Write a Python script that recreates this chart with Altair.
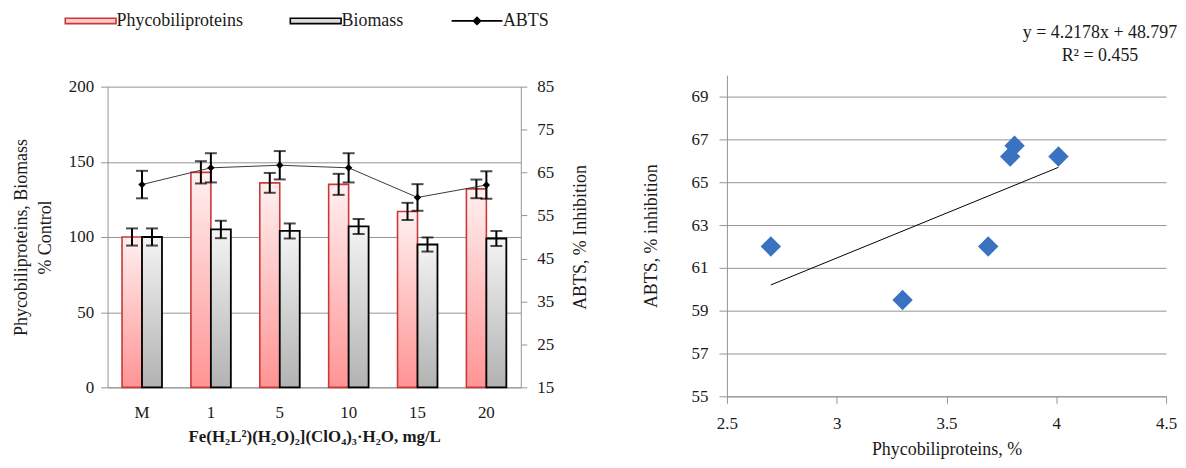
import altair as alt
import pandas as pd

# ---------------- data ----------------
categories = ["M", "1", "5", "10", "15", "20"]
phyco = [100, 143, 136, 135, 117, 132]
phyco_err = [5.7, 7.4, 6.6, 7.0, 5.7, 6.2]
biomass = [100, 105, 104, 107, 95, 99]
biomass_err = [5.7, 5.8, 5.0, 5.0, 4.7, 5.0]
abts = [62.2, 66.1, 66.7, 66.1, 59.2, 62.1]
abts_err = [3.2, 3.4, 3.3, 3.4, 3.1, 3.2]
series_names = ["Phycobiliproteins", "Biomass", "ABTS"]

scatter_x = [2.7, 3.3, 3.69, 3.79, 3.81, 4.01]
scatter_y = [62.0, 59.5, 62.0, 66.2, 66.7, 66.2]

left_ticks = [0, 50, 100, 150, 200]
right_ticks = [15, 25, 35, 45, 55, 65, 75, 85]
scatter_x_ticks = [2.5, 3, 3.5, 4, 4.5]
scatter_y_ticks = [55, 57, 59, 61, 63, 65, 67, 69]
equation = ["y = 4.2178x + 48.797", "R² = 0.455"]

FONT = "Liberation Serif"
TXT = "#1a1a1a"
GRID = "#939393"

bars_df = pd.DataFrame({
    "cat": categories * 2,
    "series": [series_names[0]] * len(categories) + [series_names[1]] * len(categories),
    "value": phyco + biomass,
    "err": phyco_err + biomass_err,
})
abts_df = pd.DataFrame({"cat": categories, "value": abts, "err": abts_err})
legend_df = pd.DataFrame({"series": series_names})
scatter_df = pd.DataFrame({"x": scatter_x, "y": scatter_y})

# ---------------- left chart ----------------
x_axis = alt.Axis(
    title="Fe(H₂L²)(H₂O)₂](ClO₄)₃·H₂O, mg/L", labelAngle=0, ticks=False,
    labelPadding=17, titlePadding=8, titleFontWeight="bold", domainColor=GRID,
    labelFontSize=17, titleFontSize=17, labelColor=TXT, titleColor=TXT,
)
x_scale = alt.Scale(paddingInner=0.42, paddingOuter=0.21)


def xenc():
    return alt.X("cat:N", sort=categories, scale=x_scale, axis=x_axis)


xoff = alt.XOffset("series:N", scale=alt.Scale(domain=series_names[:2]))

left_axis = alt.Axis(
    values=left_ticks, grid=True, gridColor=GRID, domainColor=GRID, tickColor=GRID,
    tickSize=7, labelPadding=7, labelFontSize=17, titleFontSize=18,
    titleFontWeight="normal", titlePadding=14, titleLineHeight=24,
    labelColor=TXT, titleColor=TXT,
)
left_title = ["Phycobiliproteins, Biomass", "% Control"]
left_scale = alt.Scale(domain=[0, 200])


def yl(field):
    return alt.Y(field, scale=left_scale, axis=left_axis, title=left_title)


pink_grad = alt.Gradient(
    gradient="linear",
    stops=[alt.GradientStop(color="#FFF0F0", offset=0), alt.GradientStop(color="#FF9494", offset=1)],
    x1=0, x2=0, y1=0, y2=1,
)
gray_grad = alt.Gradient(
    gradient="linear",
    stops=[alt.GradientStop(color="#F4F4F4", offset=0), alt.GradientStop(color="#B2B2B2", offset=1)],
    x1=0, x2=0, y1=0, y2=1,
)

base_bars = alt.Chart(bars_df).transform_calculate(
    lo="datum.value - datum.err", hi="datum.value + datum.err"
)

pink_bar = base_bars.transform_filter(alt.datum.series == series_names[0]).mark_bar(
    fill=pink_grad, stroke="#C9383A", strokeWidth=1.6
).encode(x=xenc(), xOffset=xoff, y=yl("value:Q"))

gray_bar = base_bars.transform_filter(alt.datum.series == series_names[1]).mark_bar(
    fill=gray_grad, stroke="black", strokeWidth=1.8
).encode(x=xenc(), xOffset=xoff, y=yl("value:Q"))

bar_rule = base_bars.mark_rule(color="black", strokeWidth=2).encode(
    x=xenc(), xOffset=xoff, y=yl("lo:Q"), y2="hi:Q"
)
bar_cap_lo = base_bars.mark_tick(color="black", thickness=2, size=12).encode(
    x=xenc(), xOffset=xoff, y=yl("lo:Q")
)
bar_cap_hi = base_bars.mark_tick(color="black", thickness=2, size=12).encode(
    x=xenc(), xOffset=xoff, y=yl("hi:Q")
)

# legend symbols: nominal size 12px, drawn 51px wide
rect_path = "M-4.25,-0.45H4.25V0.45H-4.25Z"
line_path = "M-4.25,0H4.25M0,-0.6L0.6,0L0,0.6L-0.6,0Z"
legend = alt.Legend(
    title=None, orient="none", legendX=-26, legendY=-75, direction="horizontal",
    symbolSize=144, symbolStrokeWidth=1.6, labelFontSize=18, labelFont=FONT,
    labelColor=TXT, labelOffset=17, columnPadding=44,
)
legend_layer = alt.Chart(legend_df).transform_filter("false").mark_point(
    filled=True, opacity=1, strokeWidth=1.6
).encode(
    fill=alt.Fill("series:N", scale=alt.Scale(domain=series_names, range=["#FFCACA", "#DADADA", "black"]), legend=legend),
    stroke=alt.Stroke("series:N", scale=alt.Scale(domain=series_names, range=["#C9383A", "black", "black"]), legend=legend),
    shape=alt.Shape("series:N", scale=alt.Scale(domain=series_names, range=[rect_path, rect_path, line_path]), legend=legend),
)

bars_group = alt.layer(pink_bar, gray_bar, bar_rule, bar_cap_lo, bar_cap_hi, legend_layer)

right_axis = alt.Axis(
    orient="right", values=right_ticks, grid=False, domainColor=GRID, tickColor=GRID,
    tickSize=6, labelPadding=10, labelFontSize=17, titleFontSize=18, titleAngle=270,
    titleBaseline="top", titleFontWeight="normal", titlePadding=18,
    labelColor=TXT, titleColor=TXT,
)
right_scale = alt.Scale(domain=[15, 85])


def yr(field):
    return alt.Y(field, scale=right_scale, axis=right_axis, title="ABTS, % Inhibition")


base_abts = alt.Chart(abts_df).transform_calculate(
    lo="datum.value - datum.err", hi="datum.value + datum.err"
)
abts_line = base_abts.mark_line(color="#3a3a3a", strokeWidth=1).encode(x=xenc(), y=yr("value:Q"))
abts_rule = base_abts.mark_rule(color="black", strokeWidth=2).encode(x=xenc(), y=yr("lo:Q"), y2="hi:Q")
abts_cap_lo = base_abts.mark_tick(color="black", thickness=2, size=12).encode(x=xenc(), y=yr("lo:Q"))
abts_cap_hi = base_abts.mark_tick(color="black", thickness=2, size=12).encode(x=xenc(), y=yr("hi:Q"))
abts_pts = base_abts.mark_point(shape="diamond", filled=True, color="black", size=55, opacity=1).encode(
    x=xenc(), y=yr("value:Q")
)
abts_group = alt.layer(abts_line, abts_rule, abts_cap_lo, abts_cap_hi, abts_pts)

left = alt.layer(bars_group, abts_group).resolve_scale(y="independent").properties(width=415, height=302)

# ---------------- right chart ----------------
R_H = 311
sx = alt.X(
    "x:Q", scale=alt.Scale(domain=[2.5, 4.5]),
    axis=alt.Axis(values=scatter_x_ticks, format="~g", grid=False, domainColor=GRID, tickColor=GRID,
                  tickSize=7, labelPadding=12, labelFontSize=17, titleFontSize=18, titleFontWeight="normal",
                  titlePadding=9, labelColor=TXT, titleColor=TXT, labelFlush=False),
    title="Phycobiliproteins, %",
)
sy = alt.Y(
    "y:Q", scale=alt.Scale(domain=[55, 70], range=[R_H, -11.5]),
    axis=alt.Axis(values=scatter_y_ticks, grid=True, gridColor=GRID, domainColor=GRID, tickColor=GRID,
                  tickSize=8, labelPadding=11, labelFontSize=17, titleFontSize=18, titleFontWeight="normal",
                  titlePadding=31, labelColor=TXT, titleColor=TXT),
    title="ABTS, % inhibition",
)

trend = alt.Chart(scatter_df).transform_regression("x", "y").mark_line(color="black", strokeWidth=1).encode(
    x=sx, y=sy
)
pts = alt.Chart(scatter_df).mark_point(shape="diamond", filled=True, color="#3A72C2", size=420, opacity=1).encode(
    x=sx, y=sy
)

right = alt.layer(trend, pts).properties(
    width=441, height=R_H,
    title=alt.Title(equation, anchor="end", align="center", dx=-77, fontSize=18, font=FONT,
                    fontWeight="normal", color=TXT, offset=22, lineHeight=23),
)

chart = alt.hconcat(
    left, right, spacing=53, padding={"left": 4, "top": 3, "right": 0, "bottom": 0}
).configure(font=FONT).configure_view(stroke=None)

chart.save("out.html", embed_options={"renderer": "svg", "actions": False})
